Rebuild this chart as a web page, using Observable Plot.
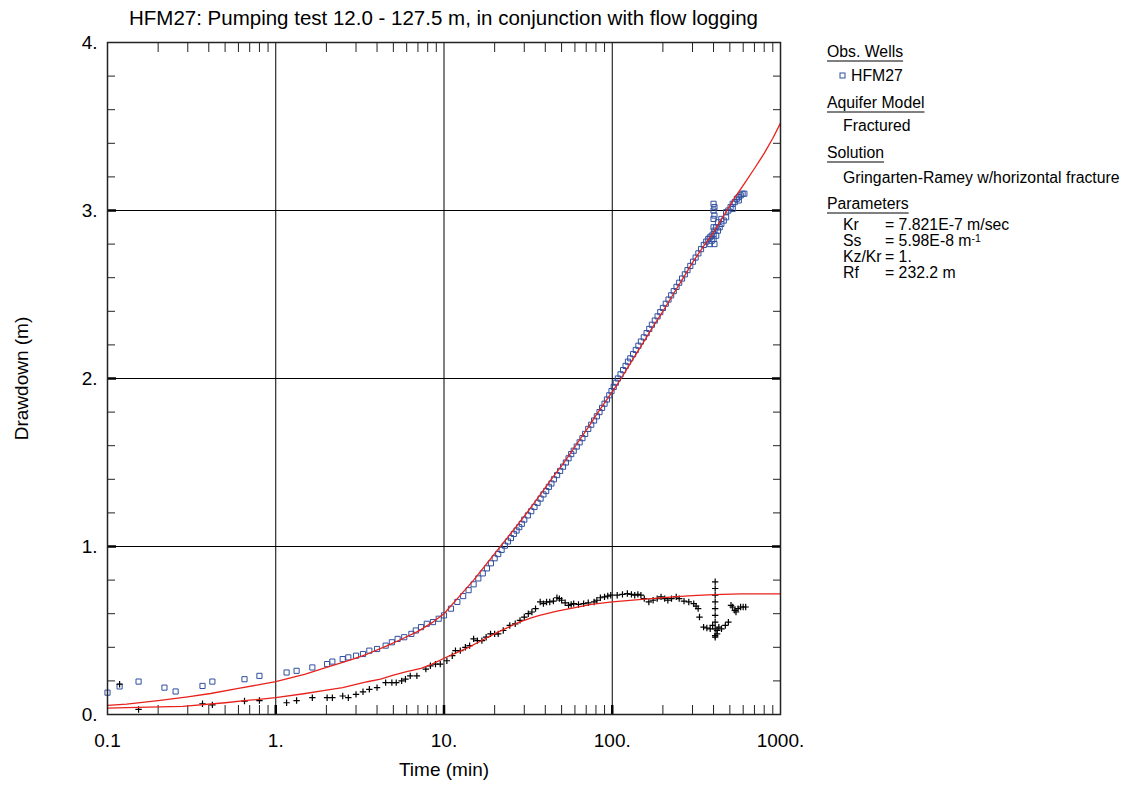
<!DOCTYPE html>
<html>
<head>
<meta charset="utf-8">
<script src="https://cdn.jsdelivr.net/npm/d3@7"></script>
<script src="https://cdn.jsdelivr.net/npm/@observablehq/plot@0.6"></script>
<style>
  body { margin: 0; background: #fff; }
  #chart svg { display: block; }
</style>
</head>
<body>
<div id="chart"></div>
<script>
// ---------- data ----------
const titleText = "HFM27: Pumping test 12.0 - 127.5 m, in conjunction with flow logging";
const xLabel = "Time (min)";
const yLabel = "Drawdown (m)";

const xTicks = [0.1, 1, 10, 100, 1000];
const xTickLabels = ["0.1", "1.", "10.", "100.", "1000."];
const xMinor = [0.2,0.3,0.4,0.5,0.6,0.7,0.8,0.9, 2,3,4,5,6,7,8,9, 20,30,40,50,60,70,80,90, 200,300,400,500,600,700,800,900];
const xGrid = [1, 10, 100];
const yTicks = [0, 1, 2, 3, 4];
const yTickLabels = ["0.", "1.", "2.", "3.", "4."];
const yMinor = [0.2,0.4,0.6,0.8, 1.2,1.4,1.6,1.8, 2.2,2.4,2.6,2.8, 3.2,3.4,3.6,3.8];
const yGrid = [1, 2, 3];

// observed drawdown (HFM27), blue squares
const obsT = [0.1,0.118,0.153,0.218,0.254,0.367,0.42,0.652,0.8,1.16,1.33,1.65,2.02,2.17,2.5,2.7,3.0,3.3,3.6,4.0,4.5,4.9,5.3,5.8,6.4,6.8,7.3,7.9,8.6,9.3,
  10,11,12,13,14,15,16,17,18,19,20,21,22,23,24,25,26,27,28,29,30,31.5,33,34.5,36,37.5,39,40.5,42,43.5,45,47,49,51,53,55,57,59,61.5,64,66.5,69,72,75,78,81,84,87,90,93,96,99,
  102,105,108,112,116,120,124,128,133,138,143,148,154,160,166,172,179,186,193,200,208,216,224,232,241,250,260,270,280,291,302,313,325,337,350,362,372,
  380,380,390,390,400,400,400,400,400,400,405,405,405,405,415,415,425,425,435,445,445,460,475,475,490,505,520,520,535,550,565,565,580,595,610];
const obsD = [0.13,0.167,0.196,0.16,0.137,0.17,0.196,0.21,0.23,0.25,0.26,0.28,0.30,0.315,0.33,0.34,0.35,0.36,0.38,0.39,0.41,0.43,0.45,0.46,0.48,0.50,0.52,0.54,0.55,0.57,
  0.59,0.63,0.67,0.705,0.74,0.775,0.81,0.84,0.87,0.90,0.93,0.955,0.98,1.005,1.03,1.05,1.075,1.095,1.115,1.135,1.16,1.185,1.21,1.235,1.26,1.285,1.31,1.33,1.355,1.375,1.40,1.425,1.45,1.475,1.50,1.525,1.55,1.57,1.595,1.62,1.645,1.67,1.70,1.725,1.75,1.775,1.80,1.825,1.85,1.875,1.90,1.925,
  1.95,1.975,2.00,2.025,2.05,2.075,2.10,2.12,2.145,2.17,2.195,2.22,2.245,2.27,2.295,2.32,2.345,2.37,2.395,2.42,2.445,2.47,2.495,2.52,2.545,2.57,2.595,2.62,2.645,2.67,2.695,2.72,2.745,2.77,2.795,2.815,2.83,
  2.84,2.80,2.85,2.82,2.86,2.90,2.95,3.00,3.04,2.83,2.88,2.97,3.02,2.80,2.85,2.90,2.88,2.93,2.90,2.92,2.95,2.94,2.96,2.99,3.00,3.02,3.04,3.01,3.05,3.07,3.08,3.06,3.09,3.10,3.10];

// derivative data, black crosses
const derT = [0.118,0.153,0.367,0.42,0.652,0.8,1.16,1.33,1.65,2.02,2.17,2.5,2.7,3.0,3.3,3.6,4.0,4.5,4.9,5.2,5.6,5.9,6.3,6.9,7.8,8.3,8.9,9.5,10.4,11.2,11.7,12.5,13.4,14.2,15,15.8,16.8,17.8,18.9,20,21,22.5,24.6,26.5,28.3,30,31.7,33.3,35,37.3,39,40.7,42.5,44.7,46.9,48.5,50,52.5,55,57,59,63,67.6,72,78,81,85,90,94,98,107,115,123,130,136,142,148,155,165,175,185,195,205,214,225,240,250,267,285,305,315,324,330,349,365,382,395,
  409,409,409,409,409,409,409,409,409,409,420,420,430,446,470,490,508,520,535,544,560,579,600,621];
const derD = [0.18,0.03,0.064,0.057,0.08,0.083,0.07,0.083,0.10,0.10,0.10,0.11,0.10,0.12,0.135,0.15,0.16,0.19,0.19,0.19,0.20,0.21,0.23,0.23,0.27,0.29,0.30,0.30,0.32,0.35,0.38,0.38,0.40,0.41,0.45,0.44,0.44,0.46,0.48,0.48,0.48,0.50,0.53,0.54,0.56,0.58,0.60,0.61,0.63,0.67,0.66,0.67,0.67,0.675,0.695,0.69,0.68,0.665,0.65,0.655,0.66,0.655,0.66,0.665,0.67,0.68,0.695,0.70,0.705,0.71,0.71,0.715,0.72,0.715,0.71,0.715,0.71,0.69,0.67,0.68,0.69,0.70,0.69,0.68,0.69,0.70,0.69,0.675,0.67,0.66,0.645,0.63,0.58,0.52,0.515,0.51,0.53,
  0.79,0.75,0.71,0.67,0.63,0.59,0.55,0.51,0.47,0.46,0.50,0.48,0.52,0.51,0.53,0.55,0.65,0.64,0.62,0.61,0.63,0.64,0.64,0.64];

// type curve (Gringarten-Ramey), red
const modelT = [0.1,0.13,0.2,0.3,0.41,0.6,0.8,1,1.5,2,2.5,3,3.5,4.5,5.5,7,8.6,10,12,15,18,22,26,30,35,40,45,50,56,63,71,80,90,100,113,130,150,175,200,230,265,300,350,400,460,530,610,700,800,900,1000];
const modelS = [0.054,0.062,0.083,0.105,0.125,0.155,0.178,0.196,0.24,0.28,0.31,0.335,0.36,0.405,0.445,0.495,0.55,0.60,0.69,0.80,0.90,1.01,1.10,1.18,1.27,1.35,1.42,1.48,1.55,1.625,1.70,1.78,1.855,1.92,2.00,2.10,2.20,2.31,2.40,2.50,2.60,2.69,2.79,2.87,2.97,3.07,3.16,3.25,3.34,3.43,3.52];
// derivative type curve, red
const derivT = [0.1,0.15,0.28,0.5,0.7,1,1.5,2,2.5,3,3.5,4.2,5,6,7.3,8.5,10,12,14,16,19,23,28,33,37,47,59,75,100,150,230,300,400,580,1000];
const derivS = [0.038,0.042,0.048,0.07,0.085,0.10,0.125,0.145,0.16,0.18,0.195,0.21,0.235,0.255,0.275,0.30,0.335,0.37,0.40,0.43,0.47,0.51,0.55,0.575,0.59,0.615,0.635,0.655,0.67,0.685,0.70,0.707,0.714,0.718,0.718];

// legend
const legendHeaders = ["Obs. Wells", "Aquifer Model", "Solution", "Parameters"];
const legendWell = "HFM27";
const legendModel = "Fractured";
const legendSolution = "Gringarten-Ramey w/horizontal fracture";
const paramNames = ["Kr", "Ss", "Kz/Kr", "Rf"];
const paramValues = ["= 7.821E-7 m/sec", "= 5.98E-8 m", "= 1.", "= 232.2 m"];
const paramSup = ["", "-1", "", ""];

// ---------- build ----------
const obs = obsT.map((t, i) => ({t, d: obsD[i]}));
const der = derT.map((t, i) => ({t, d: derD[i]}));
const model = modelT.map((t, i) => ({t, d: modelS[i]}));
const deriv = derivT.map((t, i) => ({t, d: derivS[i]}));

const BLUE = "#2f4f9f";
const RED = "#e8221c";
const FONT = "'Liberation Sans', Arial, sans-serif";

const plusSymbol = {
  draw(ctx, size) {
    const r = Math.sqrt(size / Math.PI);
    ctx.moveTo(-r, 0); ctx.lineTo(r, 0);
    ctx.moveTo(0, -r); ctx.lineTo(0, r);
  }
};

const W = 1132, H = 788;
const chart = Plot.plot({
  width: W,
  height: H,
  marginLeft: 107,
  marginRight: 352,
  marginTop: 42,
  marginBottom: 74,
  style: {fontFamily: FONT, fontSize: "19px", background: "#fff", color: "#000"},
  x: {type: "log", domain: [0.1, 1000]},
  y: {domain: [0, 4]},
  marks: [
    Plot.ruleX(xGrid, {stroke: "#000", strokeWidth: 1}),
    Plot.ruleY(yGrid, {stroke: "#000", strokeWidth: 1}),
    Plot.axisX({anchor: "bottom", ticks: xMinor, tickSize: -9, tickFormat: () => "", label: null, stroke: "#222"}),
    Plot.axisX({anchor: "top", ticks: xMinor, tickSize: -9, tickFormat: () => "", label: null, stroke: "#222"}),
    Plot.axisX({anchor: "bottom", ticks: xGrid, tickSize: -9, strokeWidth: 2.5, tickFormat: () => "", label: null}),
    Plot.axisY({anchor: "left", ticks: yMinor, tickSize: -8, tickFormat: () => "", label: null, stroke: "#222"}),
    Plot.axisY({anchor: "right", ticks: yMinor, tickSize: -8, tickFormat: () => "", label: null, stroke: "#222"}),
    Plot.axisY({anchor: "left", ticks: yGrid, tickSize: -9, strokeWidth: 2.5, tickFormat: () => "", label: null}),
    Plot.axisY({anchor: "right", ticks: yGrid, tickSize: -9, strokeWidth: 2.5, tickFormat: () => "", label: null}),
    Plot.axisX({anchor: "bottom", ticks: xTicks, tickSize: 0, tickPadding: 19, label: null,
      tickFormat: d => xTickLabels[xTicks.indexOf(d)]}),
    Plot.axisY({anchor: "left", ticks: yTicks, tickSize: 0, tickPadding: 10, label: null,
      tickFormat: d => yTickLabels[yTicks.indexOf(d)]}),
    Plot.dot(obs, {x: "t", y: "d", symbol: "square", r: 2.9, stroke: BLUE, fill: "none", strokeWidth: 1}),
    Plot.dot(der, {x: "t", y: "d", symbol: plusSymbol, r: 3.2, stroke: "#000", fill: "none", strokeWidth: 1.2}),
    Plot.line(model, {x: "t", y: "d", stroke: RED, strokeWidth: 1.3}),
    Plot.line(deriv, {x: "t", y: "d", stroke: RED, strokeWidth: 1.3}),
    Plot.frame({stroke: "#222", strokeWidth: 1.5}),
    Plot.text([xLabel], {frameAnchor: "bottom", text: d => d, textAnchor: "middle", dy: 61, fontSize: 19}),
    Plot.text([yLabel], {frameAnchor: "left", text: d => d, textAnchor: "middle", rotate: -90, dx: -86, fontSize: 19})
  ]
});
document.getElementById("chart").append(chart);

// title + legend
const svg = d3.select(chart);
svg.append("text")
  .attr("x", 443.5).attr("y", 25)
  .attr("text-anchor", "middle")
  .style("font-family", FONT).style("font-size", "20.5px").attr("fill", "#000")
  .text(titleText);

const lg = svg.append("g").attr("text-anchor", "start")
  .style("font-family", FONT).style("font-size", "15.8px").attr("fill", "#000");
const headerY = [57, 108, 158, 209];
const HX = 827, IX = 843, EX = 885;
legendHeaders.forEach((h, i) => {
  const t = lg.append("text").attr("x", HX).attr("y", headerY[i]).text(h);
  const w = t.node().getComputedTextLength();
  lg.append("line").attr("x1", HX).attr("x2", HX + w).attr("y1", headerY[i] + 4).attr("y2", headerY[i] + 4)
    .attr("stroke", "#000").attr("stroke-width", 1);
});
lg.append("rect").attr("x", 840).attr("y", 73).attr("width", 5).attr("height", 5)
  .attr("fill", "none").attr("stroke", BLUE).attr("stroke-width", 1);
lg.append("text").attr("x", 851).attr("y", 81).text(legendWell);
lg.append("text").attr("x", IX).attr("y", 131).text(legendModel);
lg.append("text").attr("x", IX).attr("y", 182.5).text(legendSolution);
const paramY = [229.5, 246, 262, 278];
paramNames.forEach((n, i) => {
  lg.append("text").attr("x", IX).attr("y", paramY[i]).text(n);
  const v = lg.append("text").attr("x", EX).attr("y", paramY[i]).text(paramValues[i]);
  if (paramSup[i]) v.append("tspan").attr("dy", -4).style("font-size", "10.5px").text(paramSup[i]);
});
</script>
</body>
</html>
